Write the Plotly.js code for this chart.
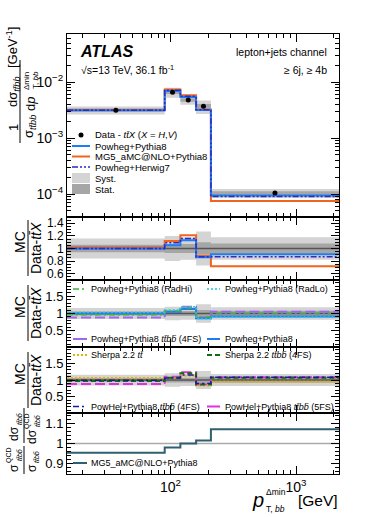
<!DOCTYPE html>
<html><head><meta charset="utf-8">
<script src="https://cdn.plot.ly/plotly-3.0.1.min.js"></script>
<style>html,body{margin:0;padding:0;background:#fff}#plot{width:373px;height:517px}</style>
</head><body><div id="plot"></div>
<script>
// ---------------- data ----------------
const binEdges = [15, 90, 120, 160, 210, 2200];
const dataValues = [3.15e-3, 6.6e-3, 4.8e-3, 3.7e-3, 1.04e-4];
const systRel = [0.16, 0.20, 0.18, 0.27, 0.18];
const statRel = [0.06, 0.07, 0.07, 0.10, 0.08];
const ratioPowhegPythia8 = [1.00, 1.05, 1.13, 0.86, 0.91];
const ratioMG5Pythia8 = [1.02, 1.12, 1.21, 0.88, 0.72];
const ratioPowhegHerwig7 = [1.00, 1.09, 1.16, 0.87, 0.87];
const ratioRadHi = [0.96, 1.07, 1.16, 0.90, 1.00];
const ratioRadLo = [1.03, 1.10, 1.20, 0.85, 0.90];
const ratioPowhegTtbb4FS = [0.88, 1.06, 1.20, 0.88, 1.05];
const ratioSherpaTt = [1.06, 1.07, 1.13, 0.84, 0.95];
const ratioSherpaTtbb4FS = [0.97, 1.07, 1.20, 0.87, 1.07];
const ratioPowHel4FS = [0.99, 1.06, 1.15, 0.90, 1.08];
const ratioPowHel5FS = [0.88, 1.10, 1.23, 0.87, 1.08];
const ratioQCD = [0.955, 0.98, 1.00, 1.015, 1.07];
const xTickVals = [100, 1000];
const xTickText = ['10<sup>2</sup>', '10<sup>3</sup>'];
const yMainTickVals = [1e-4, 1e-3, 1e-2];
const yMainTickText = ['10<sup>\u22124</sup>', '10<sup>\u22123</sup>', '10<sup>\u22122</sup>'];

// ---------------- helpers ----------------
const TB = 't\u0304', BB = 'b\u0304';
const ttX = '<i>t' + TB + 'X</i>';
const ttbb = '<i>t' + TB + 'bb</i>';
const ttbbbar = '<i>t' + TB + 'b' + BB + '</i>';
const C = {
  pp8: '#1f7cf2', mg5: '#f0641e', ph7: '#2b2bc8', radhi: '#3cb43c', radlo: '#22c8d8',
  pp4fs: '#a066f0', shtt: '#e8b000', shttbb: '#0e6e0e', ph4: '#1a1aa0', ph5: '#e030e0', qcd: '#2e6070',
  syst: '#d4d4d4', stat: '#a6a6a6'
};
const L = 67, R = 339, T = 34, B = 474, W = R - L, H = B - T;
const px = x => (x - L) / W;
const py = y => (B - y) / H;
const step = v => v.concat([v[v.length - 1]]);
const mul = (a, b) => a.map((v, i) => v * b[i]);
const centers = binEdges.slice(0, -1).map((e, i) => Math.sqrt(e * binEdges[i + 1]));

const traces = [];
function band(xa, ya, lower, upper, color) {
  traces.push({x: binEdges, y: step(upper), xaxis: xa, yaxis: ya, mode: 'lines', line: {width: 0, shape: 'hv'}, hoverinfo: 'skip', showlegend: false});
  traces.push({x: binEdges, y: step(lower), xaxis: xa, yaxis: ya, mode: 'lines', line: {width: 0, shape: 'hv'}, fill: 'tonexty', fillcolor: color, hoverinfo: 'skip', showlegend: false});
}
function stepLine(xa, ya, vals, color, width, dash) {
  traces.push({x: binEdges, y: step(vals), xaxis: xa, yaxis: ya, mode: 'lines', line: {color, width, dash: dash || 'solid', shape: 'hv'}, showlegend: false, hoverinfo: 'skip'});
}
function unitLine(xa, ya, color, width) {
  traces.push({x: [binEdges[0], binEdges[binEdges.length - 1]], y: [1, 1], xaxis: xa, yaxis: ya, mode: 'lines', line: {color, width}, showlegend: false, hoverinfo: 'skip'});
}
const plus = r => r.map(v => 1 + v), minus = r => r.map(v => 1 - v);

// main panel
band('x', 'y', mul(dataValues, minus(systRel)), mul(dataValues, plus(systRel)), C.syst);
band('x', 'y', mul(dataValues, minus(statRel)), mul(dataValues, plus(statRel)), C.stat);
stepLine('x', 'y', mul(dataValues, ratioMG5Pythia8), C.mg5, 2);
stepLine('x', 'y', mul(dataValues, ratioPowhegPythia8), C.pp8, 2);
stepLine('x', 'y', mul(dataValues, ratioPowhegHerwig7), C.ph7, 1.5, '6px,2px,2px,2px,2px,2px');
traces.push({x: centers, y: dataValues, xaxis: 'x', yaxis: 'y', mode: 'markers', marker: {color: '#000', size: 5}, showlegend: false});

// ratio panel 1
band('x2', 'y2', minus(systRel), plus(systRel), C.syst);
band('x2', 'y2', minus(statRel), plus(statRel), C.stat);
unitLine('x2', 'y2', '#555', 1.5);
stepLine('x2', 'y2', ratioMG5Pythia8, C.mg5, 2);
stepLine('x2', 'y2', ratioPowhegPythia8, C.pp8, 2);
stepLine('x2', 'y2', ratioPowhegHerwig7, C.ph7, 1.5, '6px,2px,2px,2px,2px,2px');

// ratio panel 2
band('x3', 'y3', minus(systRel), plus(systRel), C.syst);
band('x3', 'y3', minus(statRel), plus(statRel), C.stat);
unitLine('x3', 'y3', '#555', 1.5);
stepLine('x3', 'y3', ratioPowhegTtbb4FS, C.pp4fs, 2, '10px,4px');
stepLine('x3', 'y3', ratioPowhegPythia8, C.pp8, 2);
stepLine('x3', 'y3', ratioRadHi, C.radhi, 1.5, '6px,3px,2px,3px');
stepLine('x3', 'y3', ratioRadLo, C.radlo, 1.5, '2px,2px');

// ratio panel 3
band('x4', 'y4', minus(systRel), plus(systRel), C.syst);
band('x4', 'y4', minus(statRel), plus(statRel), C.stat);
unitLine('x4', 'y4', '#555', 1.5);
stepLine('x4', 'y4', ratioPowHel5FS, C.ph5, 2, '10px,4px');
stepLine('x4', 'y4', ratioSherpaTt, C.shtt, 2, '2px,2px');
stepLine('x4', 'y4', ratioSherpaTtbb4FS, C.shttbb, 2, '5px,3px');
stepLine('x4', 'y4', ratioPowHel4FS, C.ph4, 1.5, '6px,3px,2px,3px');

// QCD panel
unitLine('x5', 'y5', '#aaa', 1.5);
stepLine('x5', 'y5', ratioQCD, C.qcd, 2);

// ---------------- axes ----------------
const xMinor = [20,30,40,50,60,70,80,90,200,300,400,500,600,700,800,900,2000];
const FONT = 'Liberation Sans, Arial, sans-serif';
function xAxis(anchor, labels) {
  return {type: 'log', range: [Math.log10(15), Math.log10(2200)], anchor, domain: [0, 1],
    tickmode: 'array', tickvals: xTickVals, ticktext: xTickText, showticklabels: labels,
    ticks: 'inside', ticklen: 8, tickwidth: 1, tickcolor: '#000',
    minor: {tickmode: 'array', tickvals: xMinor, ticks: 'inside', ticklen: 4, tickwidth: 1, tickcolor: '#000'},
    showline: true, linecolor: '#000', linewidth: 1, mirror: 'ticks', showgrid: false, zeroline: false,
    tickfont: {size: 14, color: '#000'}};
}
function yLin(anchor, domain, range, tickvals, minorDtick, fs) {
  return {anchor, domain, range, tickmode: 'array', tickvals, ticktext: tickvals.map(String),
    ticks: 'inside', ticklen: 8, tickwidth: 1, tickcolor: '#000',
    minor: {dtick: minorDtick, ticks: 'inside', ticklen: 4, tickwidth: 1, tickcolor: '#000'},
    showline: true, linecolor: '#000', linewidth: 1, mirror: 'ticks', showgrid: false, zeroline: false,
    tickfont: {size: fs || 13, color: '#000'}};
}
const yMainMinor = [];
for (let e = -5; e <= -2; e++) for (let m = 2; m <= 9; m++) yMainMinor.push(m * Math.pow(10, e));

const D = [0, 0.1386, 0.2886, 0.4409, 0.5841, 1];
const layout = {
  width: 373, height: 517, margin: {l: L, r: 373 - R, t: T, b: 517 - B, pad: 0},
  paper_bgcolor: '#fff', plot_bgcolor: '#fff', showlegend: false,
  font: {family: FONT, color: '#000', size: 12},
  xaxis: xAxis('y', false), xaxis2: xAxis('y2', false), xaxis3: xAxis('y3', false), xaxis4: xAxis('y4', false), xaxis5: xAxis('y5', true),
  yaxis: {anchor: 'x', domain: [D[4], D[5]], type: 'log', range: [-4.41, -1.14], tickmode: 'array', tickvals: yMainTickVals, ticktext: yMainTickText,
    ticks: 'inside', ticklen: 8, tickwidth: 1, tickcolor: '#000',
    minor: {tickmode: 'array', tickvals: yMainMinor, ticks: 'inside', ticklen: 4, tickwidth: 1, tickcolor: '#000'},
    showline: true, linecolor: '#000', linewidth: 1, mirror: 'ticks', showgrid: false, zeroline: false, tickfont: {size: 14, color: '#000'}},
  yaxis2: yLin('x2', [D[3], D[4]], [0.5, 1.5], [0.6, 0.8, 1, 1.2, 1.4], 0.05, 12),
  yaxis3: yLin('x3', [D[2], D[3]], [0.02, 1.98], [0.5, 1, 1.5], 0.1),
  yaxis4: yLin('x4', [D[1], D[2]], [0.02, 1.98], [0.5, 1, 1.5], 0.1),
  yaxis5: yLin('x5', [D[0], D[1]], [0.85, 1.15], [0.9, 1, 1.1], 0.02),
  annotations: [], shapes: []
};

// ---------------- text & legends ----------------
const A = layout.annotations, S = layout.shapes;
function txt(x, y, text, size, anchor, extra) {
  A.push(Object.assign({xref: 'paper', yref: 'paper', x: px(x), y: py(y), text, showarrow: false,
    xanchor: anchor || 'left', yanchor: 'middle', font: {size, color: '#000', family: FONT}}, extra || {}));
}
function rot(x, y, text, size) {
  A.push({xref: 'paper', yref: 'paper', x: px(x), y: py(y), text, textangle: -90, showarrow: false,
    xanchor: 'center', yanchor: 'middle', font: {size, color: '#000', family: FONT}});
}
function vbar(x, y0, y1) {
  S.push({type: 'line', xref: 'paper', yref: 'paper', x0: px(x), x1: px(x), y0: py(y0), y1: py(y1), line: {color: '#000', width: 1}});
}
function legLine(x0, x1, y, color, width, dash) {
  S.push({type: 'line', xref: 'paper', yref: 'paper', x0: px(x0), x1: px(x1), y0: py(y), y1: py(y), line: {color, width, dash: dash || 'solid'}});
}
function legBox(x0, x1, y0, y1, color) {
  S.push({type: 'rect', xref: 'paper', yref: 'paper', x0: px(x0), x1: px(x1), y0: py(y0), y1: py(y1), line: {width: 0}, fillcolor: color});
}

// Main panel labels
txt(78, 52, '<b><i>ATLAS</i></b>', 16);
txt(79, 70, '\u221As=13 TeV, 36.1 fb<sup>-1</sup>', 10.5);
txt(329, 52, 'lepton+jets channel', 10.5, 'right');
txt(329, 70, '\u2265 6j, \u2265 4b', 10.5, 'right');

// main legend
const LF = 9.5, LF2 = 9;
S.push({type: 'circle', xref: 'paper', yref: 'paper', x0: px(78.5), x1: px(83.5), y0: py(132.5), y1: py(137.5), fillcolor: '#000', line: {width: 0}});
txt(93, 135, 'Data - ' + ttX + ' (<i>X</i> = <i>H</i>,<i>V</i>)', LF);
legLine(72, 90, 146, C.pp8, 2); txt(93, 146, 'Powheg+Pythia8', LF);
legLine(72, 90, 156.5, C.mg5, 2); txt(93, 156.5, 'MG5_aMC@NLO+Pythia8', LF);
legLine(72, 90, 167, C.ph7, 1.5, '6px,2px,2px,2px,2px,2px'); txt(93, 167, 'Powheg+Herwig7', LF);
legBox(72, 90, 173, 183, C.syst); txt(93, 178, 'Syst.', LF);
legBox(72, 90, 184, 194, C.stat); txt(93, 189, 'Stat.', LF);

// panel 2 legend
legLine(73, 87, 289, C.radhi, 1.5, '6px,3px,2px,3px'); txt(89, 289, 'Powheg+Pythia8 (RadHi)', LF2);
legLine(207, 220, 289, C.radlo, 1.5, '2px,2px'); txt(223, 289, 'Powheg+Pythia8 (RadLo)', LF2);
legLine(73, 87, 339, C.pp4fs, 2); txt(89, 339, 'Powheg+Pythia8 ' + ttbbbar + ' (4FS)', LF2);
legLine(207, 220, 339, C.pp8, 2); txt(223, 339, 'Powheg+Pythia8', LF2);

// panel 3 legend
legLine(73, 87, 355, C.shtt, 2, '2px,2px'); txt(89, 355, 'Sherpa 2.2 <i>t' + TB + '</i>', LF2);
legLine(207, 220, 355, C.shttbb, 2, '5px,3px'); txt(223, 355, 'Sherpa 2.2 ' + ttbbbar + ' (4FS)', LF2);
legLine(73, 87, 406.5, C.ph4, 1.5, '6px,3px,2px,3px'); txt(89, 406.5, 'PowHel+Pythia8 ' + ttbbbar + ' (4FS)', LF2);
legLine(207, 220, 406.5, C.ph5, 2); txt(223, 406.5, 'PowHel+Pythia8 ' + ttbbbar + ' (5FS)', LF2);

// panel 4 legend
legLine(73, 87, 463, C.qcd, 2); txt(89, 463, 'MG5_aMC@NLO+Pythia8', LF2);

// y titles
rot(13, 128, '1', 13); vbar(20, 113, 143); rot(30, 127, '\u03c3<sub>' + ttbb + '</sub>', 13);
rot(13, 92, 'd\u03c3<sub>' + ttbb + '</sub>', 13); vbar(20, 60, 113);
rot(31, 104, 'd<i>p</i>', 13); rot(26, 81, '\u0394min', 8); rot(36, 80, 'T, <i>bb</i>', 8);
rot(12, 48, '[GeV<sup>-1</sup>]', 13);

[248, 313, 380].forEach(yc => {
  rot(20, yc - 6, 'MC', 14); vbar(28, yc - 28, yc + 28); rot(36, yc, 'Data-' + ttX, 14);
});

// panel 4 title
rot(14, 468, '\u03c3', 12); rot(9, 455, 'QCD', 7); rot(19, 455, ttbbbar, 7);
vbar(24, 446, 474);
rot(32, 468, '\u03c3', 12); rot(36, 457, ttbbbar, 7);
rot(14, 434, 'd\u03c3', 12); rot(19, 419, ttbbbar, 7);
vbar(24, 408, 443);
rot(32, 437, 'd\u03c3', 12); rot(27, 421, 'QCD', 7); rot(37, 421, ttbbbar, 7);

// x title
txt(258, 500, '<i>p</i>', 20, 'center');
txt(264, 492, '\u0394min', 8.5, 'left');
txt(264, 509, 'T, <i>bb</i>', 8.5, 'left');
txt(340, 501, '[GeV]', 15.5, 'right');

Plotly.newPlot('plot', traces, layout, {staticPlot: true, displayModeBar: false});
</script>
</body></html>
